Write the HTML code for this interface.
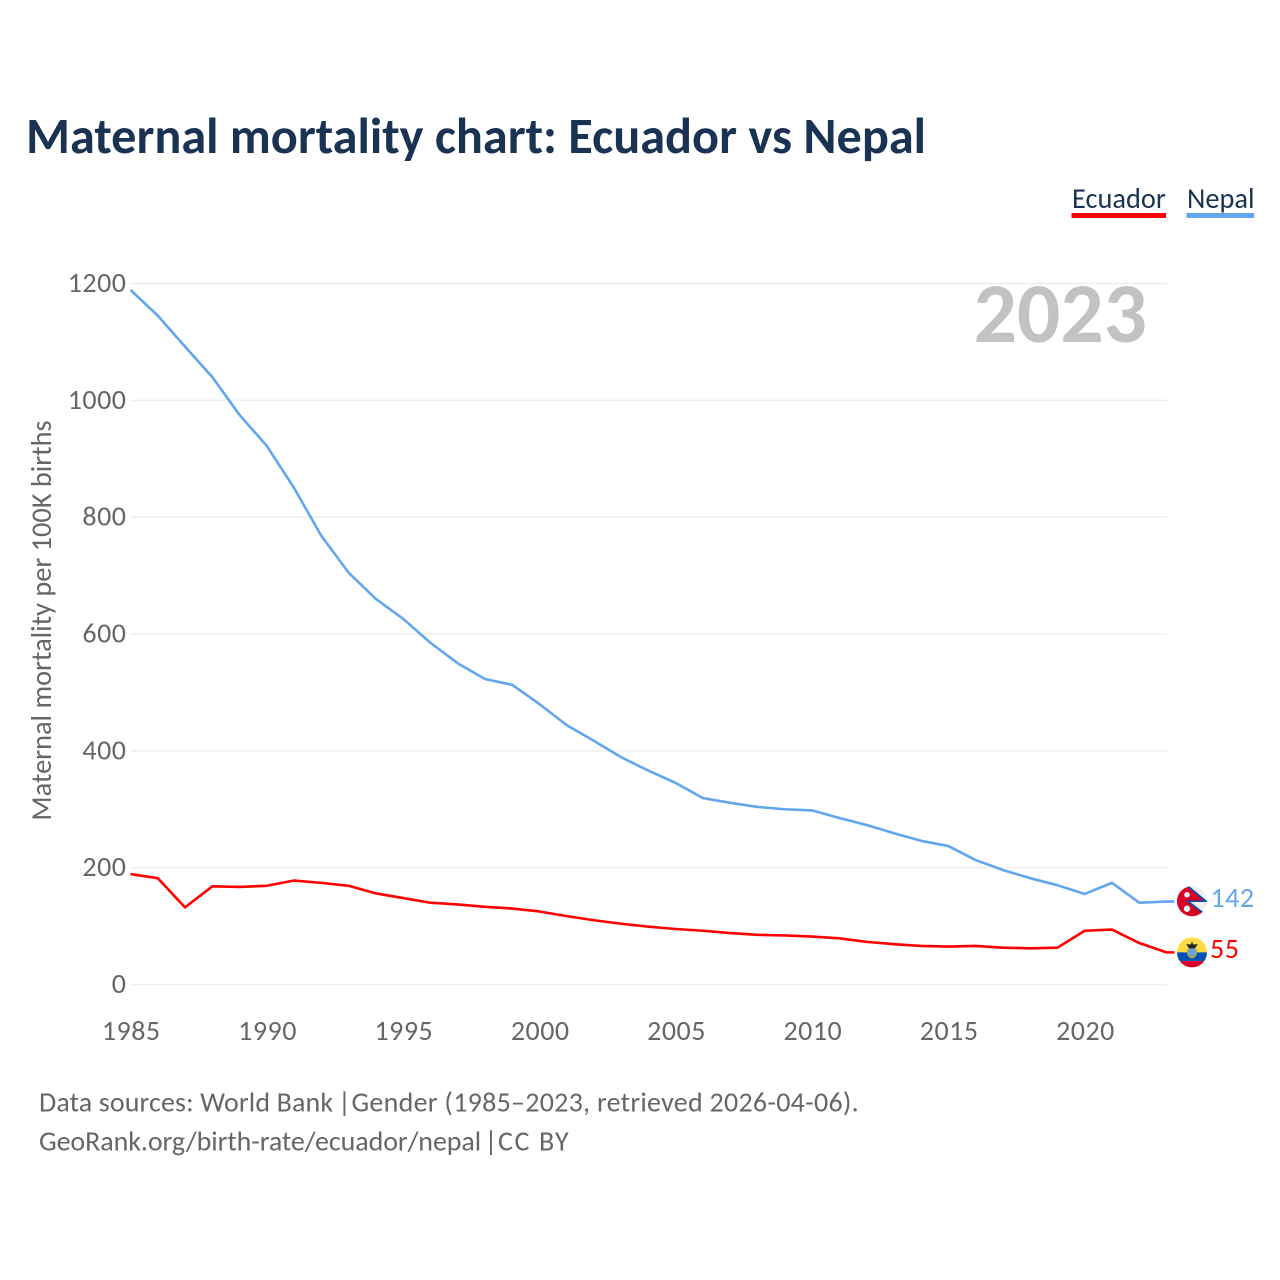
<!DOCTYPE html>
<html lang="en">
<head>
<meta charset="utf-8">
<title>Maternal mortality chart: Ecuador vs Nepal</title>
<style>
html,body{margin:0;padding:0;background:#fff;}
body{width:1280px;height:1280px;overflow:hidden;}
svg{display:block;}
text{font-family:"Carlito","Lato","Liberation Sans",sans-serif;}
</style>
</head>
<body>
<svg id="chart" xmlns="http://www.w3.org/2000/svg" width="1280" height="1280" viewBox="0 0 1280 1280">
  <rect width="1280" height="1280" fill="#ffffff"/>
  <text x="26" y="153" font-size="50.3" font-weight="700" fill="#1a3353">Maternal mortality chart: Ecuador vs Nepal</text>

  <g>
    <text x="1072" y="208" font-size="28.4" fill="#1a3353">Ecuador</text>
    <rect x="1071.5" y="213" width="94.5" height="5" fill="#ff0000"/>
  </g>
  <g>
    <text x="1187" y="208" font-size="28.4" fill="#1a3353">Nepal</text>
    <rect x="1186.5" y="213" width="67.5" height="5" fill="#62a6ed"/>
  </g>

  <g id="grid"></g>
  <g id="yticks"></g>
  <g id="xticks"></g>

  <text transform="translate(51,620.5) rotate(-90)" text-anchor="middle" font-size="28.35" fill="#666666">Maternal mortality per 100K births</text>
  <text x="1147" y="342" text-anchor="end" font-size="85.5" font-weight="700" fill="#c2c2c2">2023</text>

  <g id="series"></g>

  <defs>
    <clipPath id="flag-clip"><circle cx="0" cy="0" r="15"/></clipPath>
  </defs>

  <g id="flag-nepal">
    <g clip-path="url(#flag-clip)">
      <circle r="15" fill="#f0f0f0"/>
      <path d="M-16,-16 L-5,-16 L14,0 L-4,0 L13,13 L13,16 L-16,16 Z" fill="#d80027"/>
      <path d="M-5,-16 L14,0 L-4,0 L13,13" fill="none" stroke="#0052b4" stroke-width="1.6"/>
      <circle cx="-5" cy="-6.5" r="2.8" fill="#f0f0f0"/>
      <circle cx="-5" cy="7.5" r="3.2" fill="#f0f0f0"/>
    </g>
  </g>
  <g id="flag-ecuador">
    <g clip-path="url(#flag-clip)">
      <rect x="-16" y="-16" width="32" height="16" fill="#ffda44"/>
      <rect x="-16" y="0" width="32" height="8.7" fill="#0052b4"/>
      <rect x="-16" y="8.7" width="32" height="8" fill="#d80027"/>
      <ellipse cx="0" cy="-0.5" rx="4.4" ry="5.8" fill="#5fa4e8" stroke="#c9a227" stroke-width="1.4"/>
      <path d="M-6,-8 L6,-8 L2.5,-4 L-2.5,-4 Z" fill="#222222"/>
      <rect x="-0.8" y="-10" width="1.6" height="2.5" fill="#222222"/>
    </g>
  </g>

  <text id="label-nepal" x="1210.5" font-size="28" letter-spacing="0.5" fill="#62a6ed"></text>
  <text id="label-ecuador" x="1210" font-size="28" letter-spacing="0.5" fill="#ff0000"></text>

  <text y="1111.5" font-size="28" fill="#666666"><tspan x="39" letter-spacing="0.12">Data sources: World Bank</tspan><tspan x="338">|</tspan><tspan x="351.5" letter-spacing="0.27">Gender (1985–2023, retrieved 2026-04-06).</tspan></text>
  <text y="1150.5" font-size="28" fill="#666666"><tspan x="39" letter-spacing="-0.08">GeoRank.org/birth-rate/ecuador/nepal</tspan><tspan x="484.5">|</tspan><tspan x="498" letter-spacing="1.6">CC BY</tspan></text>
</svg>
<script>
const years = [1985,1986,1987,1988,1989,1990,1991,1992,1993,1994,1995,1996,1997,1998,1999,2000,2001,2002,2003,2004,2005,2006,2007,2008,2009,2010,2011,2012,2013,2014,2015,2016,2017,2018,2019,2020,2021,2022,2023];
const nepalValues = [1189,1145,1092,1040,975,922,850,768,705,660,626,585,550,523,513,480,444,417,389,366,345,319,311,304,300,298,285,273,259,246,237,213,196,182,170,155,174,140,142];
const ecuadorValues = [189,182,132,168,167,169,178,174,169,156,148,140,137,133,130,125,117,110,104,99,95,92,88,85,84,82,79,73,69,66,65,66,63,62,63,92,94,71,55];
const yTickValues = [0,200,400,600,800,1000,1200];
const xTickValues = [1985,1990,1995,2000,2005,2010,2015,2020];

const NS = 'http://www.w3.org/2000/svg';
function xScale(year){ return 130.5 + (year - 1985) * (1166.5 - 130.5) / (2023 - 1985); }
function yScale(v){ return 984.5 - v * (984.5 - 283.5) / 1200; }

const grid = document.getElementById('grid');
const yticks = document.getElementById('yticks');
const xticks = document.getElementById('xticks');
const series = document.getElementById('series');

yTickValues.forEach(function(v){
  const line = document.createElementNS(NS, 'line');
  
  
  line.setAttribute('x1', 130.5);
  line.setAttribute('x2', 1167);
  line.setAttribute('y1', yScale(v));
  line.setAttribute('y2', yScale(v));
  line.setAttribute('stroke', '#eeeeee');
  line.setAttribute('stroke-width', '1.5');
  grid.appendChild(line);

  const t = document.createElementNS(NS, 'text');
  
  
  t.setAttribute('x', 126.5);
  t.setAttribute('y', yScale(v) + 8.5);
  t.setAttribute('text-anchor', 'end');
  t.setAttribute('font-size', '28');
  t.setAttribute('letter-spacing', '0.5');
  t.setAttribute('fill', '#666666');
  t.textContent = String(v);
  yticks.appendChild(t);
});

xTickValues.forEach(function(year){
  const t = document.createElementNS(NS, 'text');
  
  
  t.setAttribute('x', xScale(year) + 0.75);
  t.setAttribute('y', 1040);
  t.setAttribute('text-anchor', 'middle');
  t.setAttribute('font-size', '28');
  t.setAttribute('letter-spacing', '0.5');
  t.setAttribute('fill', '#666666');
  t.textContent = String(year);
  xticks.appendChild(t);
});

function pathFor(values){
  return values.map(function(v, i){
    return (i ? 'L' : 'M') + xScale(years[i]).toFixed(2) + ',' + yScale(v).toFixed(2);
  }).join(' ');
}

const ecuadorLine = document.createElementNS(NS, 'path');


ecuadorLine.setAttribute('d', pathFor(ecuadorValues) + ' h8');
ecuadorLine.setAttribute('fill', 'none');
ecuadorLine.setAttribute('stroke', '#ff0000');
ecuadorLine.setAttribute('stroke-width', '2.6');
ecuadorLine.setAttribute('stroke-linejoin', 'round');
series.appendChild(ecuadorLine);

const nepalLine = document.createElementNS(NS, 'path');


nepalLine.setAttribute('d', pathFor(nepalValues) + ' h8');
nepalLine.setAttribute('fill', 'none');
nepalLine.setAttribute('stroke', '#62a6ed');
nepalLine.setAttribute('stroke-width', '2.6');
nepalLine.setAttribute('stroke-linejoin', 'round');
series.appendChild(nepalLine);

const nepalLast = nepalValues[nepalValues.length - 1];
const ecuadorLast = ecuadorValues[ecuadorValues.length - 1];
document.getElementById('flag-nepal').setAttribute('transform', 'translate(1192,' + (yScale(nepalLast) - 0.3) + ')');
document.getElementById('flag-ecuador').setAttribute('transform', 'translate(1192,' + yScale(ecuadorLast) + ')');
const labelNepal = document.getElementById('label-nepal');
labelNepal.setAttribute('y', yScale(nepalLast) + 5.5);
labelNepal.textContent = String(nepalLast);
const labelEcuador = document.getElementById('label-ecuador');
labelEcuador.setAttribute('y', yScale(ecuadorLast) + 5.5);
labelEcuador.textContent = String(ecuadorLast);
</script>
</body>
</html>
